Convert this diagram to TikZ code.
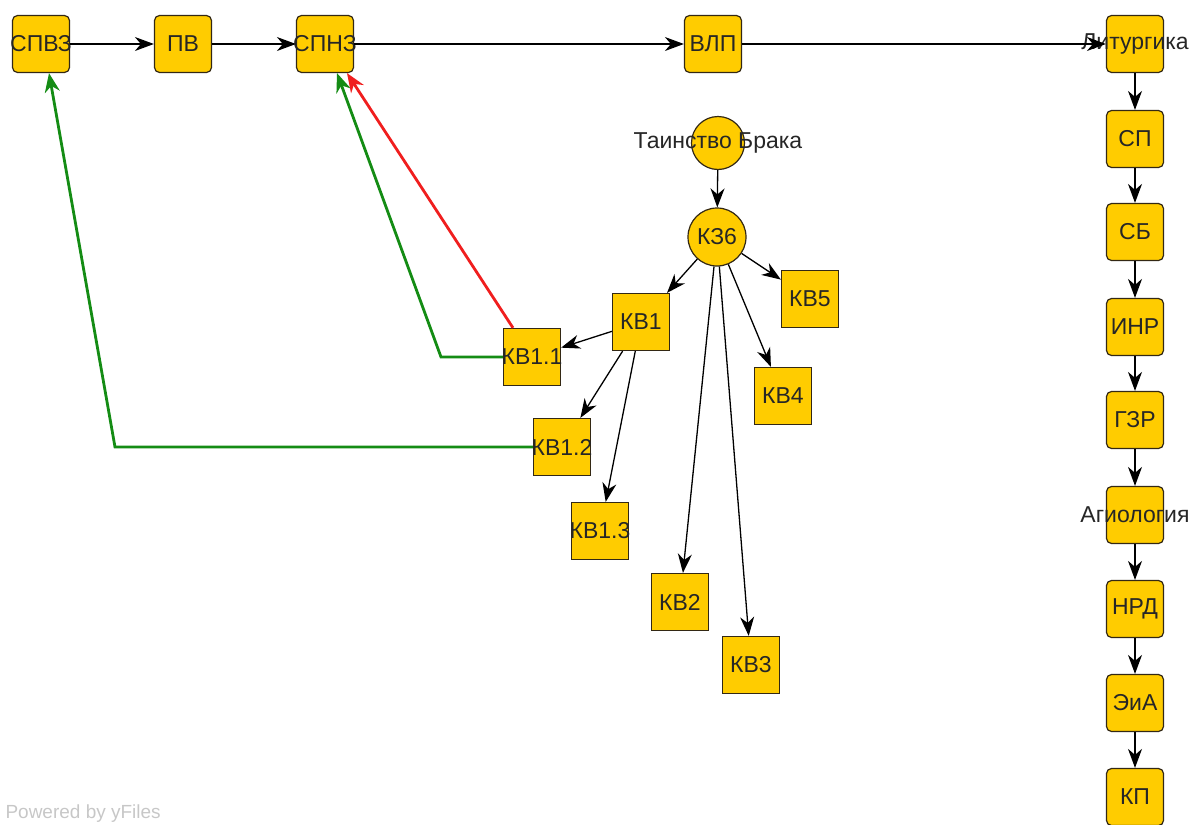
\documentclass[tikz,border=0pt]{standalone}
\usepackage{fontspec}
\setmainfont{Liberation Sans}
\usetikzlibrary{arrows.meta}
\definecolor{boxfill}{RGB}{255,204,0}
\definecolor{boxline}{RGB}{51,40,20}
\definecolor{linkgreen}{RGB}{20,140,20}
\definecolor{linkred}{RGB}{240,30,30}
\tikzset{
  base/.style={draw=boxline, fill=boxfill, line width=1.2pt, inner sep=0pt,
    label={[font=\fontsize{23}{26}\selectfont, text=black!85]center:#1}},
  rbox/.style={base=#1, rectangle, rounded corners=5pt, minimum size=57pt},
  sbox/.style={base=#1, rectangle, minimum size=57pt},
  tip/.style={-{Stealth[length=19pt,width=14pt,inset=6pt]}, line width=1.3pt},
  link/.style={-{Stealth[length=19pt,width=15pt,inset=6pt]}, line width=2.8pt}
}
\begin{document}
\begin{tikzpicture}[x=1pt, y=-1pt]
\useasboundingbox (0,0) rectangle (1195,825);
% top row
\node[rbox=СПВЗ] (spvz) at (41,44) {};
\node[rbox=ПВ] (pv) at (183,44) {};
\node[rbox=СПНЗ] (spnz) at (325,44) {};
\node[rbox=ВЛП] (vlp) at (713,44) {};
% right column
\foreach \n/\y/\t in {lit/44/Литургика, sp/139/СП, sb/232/СБ, inr/327/ИНР,
    gzr/420/ГЗР, agio/515/Агиология, nrd/609/НРД, eia/703/ЭиА, kp/797/КП}
  \node[rbox=\t] (\n) at (1135,\y) {};
% marriage tree
\node[base=Таинство Брака, circle, minimum size=53pt] (tb) at (718,143) {};
\node[base=КЗ6, circle, minimum size=58pt] (kz) at (717,237) {};
\node[sbox=КВ1] (kv1) at (641,322) {};
\node[sbox=КВ1.1] (kv11) at (532,357) {};
\node[sbox=КВ1.2] (kv12) at (562,447) {};
\node[sbox=КВ1.3] (kv13) at (600,531) {};
\node[sbox=КВ2] (kv2) at (680,602) {};
\node[sbox=КВ3] (kv3) at (751,665) {};
\node[sbox=КВ4] (kv4) at (783,396) {};
\node[sbox=КВ5] (kv5) at (810,299) {};
\foreach \a/\b in {spvz/pv, pv/spnz, spnz/vlp, vlp/lit, lit/sp, sp/sb, sb/inr,
    inr/gzr, gzr/agio, agio/nrd, nrd/eia, eia/kp, tb/kz, kz/kv1, kz/kv5,
    kz/kv4, kz/kv2, kz/kv3, kv1/kv11, kv1/kv12, kv1/kv13}
  \draw[tip] (\a) -- (\b);
% back links
\draw[link, linkgreen] (kv11.west) -- (441,357) -- ([xshift=12pt]spnz.south);
\draw[link, linkgreen] (kv12.west) -- (115,447) -- ([xshift=8pt]spvz.south);
\draw[link, linkred] ([xshift=-19pt]kv11.north) -- ([xshift=22pt]spnz.south);
\node[anchor=base west, text=black!22, font=\fontsize{19}{22}\selectfont] (yf) at (2,818) {Powered by yFiles};
\end{tikzpicture}
\end{document}
